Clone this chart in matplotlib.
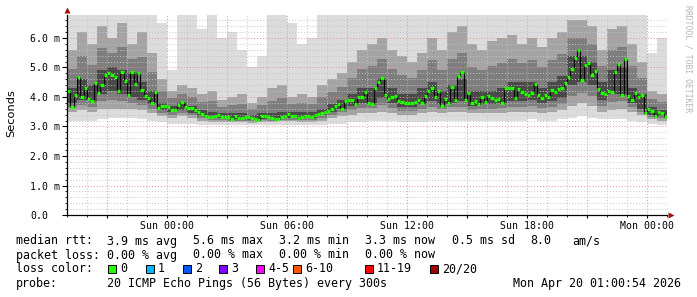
import matplotlib
matplotlib.use("Agg")
import matplotlib.pyplot as plt
import matplotlib.dates as mdates
from matplotlib.patches import Rectangle
from matplotlib.ticker import FixedLocator, MultipleLocator, FuncFormatter
import numpy as np
from datetime import datetime, timedelta

# ---------------- data ----------------
start = datetime(2026, 4, 18, 19, 0)
span_hours = 30
median_step_min = 10
smoke_step_min = 30

# median RTT in ms, one value per 10 minutes
median_ms = [
    4.20, 3.66, 4.07, 4.68, 4.00, 4.30, 3.93, 3.86, 4.47, 4.13,
    4.40, 4.75, 4.81, 4.75, 4.68, 4.20, 4.85, 4.54, 4.07, 4.85,
    4.44, 4.81, 4.24, 4.03, 3.97, 3.80, 4.17, 3.63, 3.68, 3.70,
    3.66, 3.56, 3.56, 3.73, 3.83, 3.66, 3.63, 3.63, 3.56, 3.49,
    3.42, 3.36, 3.32, 3.32, 3.34, 3.39, 3.32, 3.32, 3.32, 3.25,
    3.36, 3.29, 3.29, 3.32, 3.32, 3.29, 3.25, 3.22, 3.36, 3.34,
    3.32, 3.29, 3.27, 3.25, 3.32, 3.36, 3.42, 3.36, 3.36, 3.29,
    3.32, 3.34, 3.36, 3.32, 3.39, 3.42, 3.46, 3.49, 3.53, 3.59,
    3.70, 3.76, 3.59, 3.86, 3.90, 3.90, 3.76, 4.00, 4.00, 4.17,
    3.80, 3.76, 4.30, 4.50, 4.64, 4.07, 3.93, 4.00, 4.03, 3.86,
    3.83, 3.80, 3.80, 3.80, 3.83, 3.90, 3.80, 4.03, 4.20, 4.30,
    4.00, 4.20, 3.70, 3.93, 3.80, 4.34, 3.90, 4.71, 4.85, 3.90,
    4.13, 3.80, 3.86, 3.76, 4.00, 3.83, 4.03, 3.95, 3.90, 3.93,
    3.80, 4.30, 4.30, 4.30, 3.97, 4.27, 4.17, 4.10, 4.07, 4.13,
    4.44, 4.07, 3.97, 4.07, 4.00, 4.24, 4.17, 4.27, 4.30, 4.47,
    4.68, 4.95, 5.32, 5.60, 4.58, 5.08, 5.15, 4.75, 4.88, 4.27,
    4.13, 4.10, 4.20, 4.17, 4.85, 5.12, 4.07, 5.29, 4.03, 3.90,
    4.13, 4.00, 4.07, 3.46, 3.59, 3.53, 3.36, 3.49, 3.46, 3.32,
]

# smoke (ping spread) in ms, one value per 30 minutes
smoke_lo = [
    3.20, 3.20, 3.20, 3.25, 3.30, 3.30, 3.30, 3.25, 3.20, 3.15,
    3.10, 3.10, 3.10, 3.05, 3.05, 3.05, 3.05, 3.05, 3.05, 3.05,
    3.05, 3.05, 3.05, 3.05, 3.05, 3.05, 3.10, 3.10, 3.15, 3.15,
    3.20, 3.20, 3.20, 3.15, 3.15, 3.15, 3.20, 3.20, 3.20, 3.20,
    3.20, 3.20, 3.20, 3.20, 3.20, 3.20, 3.25, 3.20, 3.20, 3.25,
    3.30, 3.35, 3.30, 3.25, 3.25, 3.25, 3.20, 3.15, 3.10, 3.05,
]
smoke_p20 = [
    3.50, 3.55, 3.50, 3.60, 3.60, 3.60, 3.60, 3.55, 3.45, 3.35,
    3.30, 3.35, 3.30, 3.20, 3.15, 3.15, 3.15, 3.15, 3.12, 3.15,
    3.15, 3.17, 3.17, 3.15, 3.15, 3.20, 3.30, 3.35, 3.40, 3.45,
    3.45, 3.50, 3.45, 3.40, 3.40, 3.45, 3.50, 3.45, 3.50, 3.50,
    3.45, 3.45, 3.45, 3.45, 3.50, 3.50, 3.50, 3.45, 3.50, 3.55,
    3.70, 3.80, 3.70, 3.50, 3.55, 3.60, 3.50, 3.40, 3.25, 3.20,
]
smoke_p40 = [
    3.80, 3.90, 3.85, 4.10, 4.20, 4.10, 4.00, 3.90, 3.75, 3.55,
    3.50, 3.55, 3.45, 3.35, 3.28, 3.28, 3.25, 3.25, 3.22, 3.27,
    3.24, 3.30, 3.30, 3.28, 3.30, 3.40, 3.50, 3.60, 3.70, 3.80,
    3.80, 3.95, 3.80, 3.65, 3.65, 3.75, 3.85, 3.75, 3.80, 3.85,
    3.70, 3.75, 3.75, 3.80, 3.85, 3.85, 3.90, 3.80, 3.85, 3.95,
    4.40, 4.50, 4.40, 3.90, 4.10, 4.10, 3.80, 3.60, 3.40, 3.35,
]
smoke_p60 = [
    4.30, 4.60, 4.40, 4.90, 5.00, 4.90, 4.80, 4.50, 4.20, 3.80,
    3.70, 3.80, 3.70, 3.55, 3.50, 3.45, 3.45, 3.45, 3.40, 3.45,
    3.45, 3.50, 3.50, 3.50, 3.50, 3.60, 3.75, 3.90, 4.10, 4.30,
    4.30, 4.60, 4.30, 4.10, 4.10, 4.30, 4.50, 4.20, 4.40, 4.60,
    4.20, 4.20, 4.20, 4.30, 4.50, 4.50, 4.50, 4.30, 4.50, 4.70,
    5.40, 5.40, 5.20, 4.50, 4.90, 5.00, 4.30, 4.10, 3.65, 3.55,
]
smoke_p80 = [
    5.60, 6.20, 5.80, 6.40, 6.00, 6.50, 5.80, 6.20, 5.50, 4.60,
    4.20, 4.40, 4.30, 4.10, 4.20, 3.90, 4.00, 4.10, 3.80, 4.00,
    4.30, 4.40, 4.00, 4.10, 4.00, 4.40, 4.60, 4.80, 5.20, 5.60,
    5.80, 6.00, 5.60, 5.40, 5.20, 5.50, 6.00, 5.60, 6.20, 6.40,
    5.80, 5.60, 5.90, 6.00, 6.10, 5.80, 6.00, 5.70, 6.00, 6.20,
    6.60, 6.60, 6.40, 5.60, 6.30, 6.40, 5.80, 5.20, 4.20, 4.10,
]
smoke_hi = [
    7.0, 7.0, 7.0, 7.0, 7.0, 7.0, 7.0, 7.0, 7.0, 6.5,
    4.9, 7.0, 7.0, 6.3, 7.0, 6.0, 6.2, 5.6, 5.0, 5.4,
    7.0, 7.0, 6.5, 5.8, 6.0, 7.0, 7.0, 7.0, 7.0, 7.0,
    7.0, 7.0, 7.0, 7.0, 7.0, 7.0, 7.0, 7.0, 7.0, 7.0,
    7.0, 7.0, 7.0, 7.0, 7.0, 7.0, 7.0, 7.0, 7.0, 7.0,
    7.0, 7.0, 7.0, 7.0, 7.0, 7.0, 7.0, 7.0, 5.5, 6.0,
]

y_ticks = [0, 1, 2, 3, 4, 5, 6]
y_tick_labels = ["0.0", "1.0 m", "2.0 m", "3.0 m", "4.0 m", "5.0 m", "6.0 m"]

rtt_row = [("median rtt:", 16), ("3.9 ms avg", 107), ("5.6 ms max", 193),
           ("3.2 ms min", 279), ("3.3 ms now", 365), ("0.5 ms sd", 452),
           ("8.0", 530), ("am/s", 572)]
loss_row = [("packet loss:", 16), ("0.00 % avg", 107), ("0.00 % max", 193),
            ("0.00 % min", 279), ("0.00 % now", 365)]
loss_labels = ["0", "1", "2", "3", "4-5", "6-10", "11-19", "20/20"]
loss_colors = ["#26ff00", "#00b8ff", "#0059ff", "#7e00ff", "#ff00ff",
               "#ff5500", "#ff0000", "#a10000"]
loss_box_x = [108, 146, 183, 219, 256, 293, 365, 430]
probe_text = "20 ICMP Echo Pings (56 Bytes) every 300s"
stamp_text = "Mon Apr 20 01:00:54 2026"

# ---------------- figure ----------------
W, H = 697, 297
fig = plt.figure(figsize=(W / 100, H / 100), dpi=100)
fig.patch.set_facecolor("white")
ax = fig.add_axes([67 / W, (H - 215) / H, 600 / W, 200 / H])
ax.set_facecolor("white")

ymax = 200 / 29.5
end = start + timedelta(hours=span_hours)

# smoke
s_edges = mdates.date2num([start + timedelta(minutes=smoke_step_min * i)
                           for i in range(len(smoke_lo) + 1)])
def ext(a):
    a = np.asarray(a, float)
    return np.append(a, a[-1])

lo, p20, p40, p60, p80, hi = map(ext, (smoke_lo, smoke_p20, smoke_p40,
                                       smoke_p60, smoke_p80, smoke_hi))
bands = [
    (lo, hi, "#dcdcdc"),
    (p20, p80, "#a4a4a4"),
    ((p20 + p40) / 2, (p60 + p80) / 2, "#7e7e7e"),
    (p40, p60, "#4a4a4a"),
]
for b0, b1, c in bands:
    ax.fill_between(s_edges, b0, b1, step="post", color=c, lw=0, zorder=1)

# median
m_edges = mdates.date2num([start + timedelta(minutes=median_step_min * i)
                           for i in range(len(median_ms) + 1)])
med = np.asarray(median_ms)
ax.step(m_edges, np.append(med, med[-1]), where="post", color="black",
        lw=0.8, zorder=3)
ax.hlines(med, m_edges[:-1], m_edges[1:], color=loss_colors[0], lw=2.3,
          zorder=4)

# axes limits / ticks
ax.set_xlim(mdates.date2num(start), mdates.date2num(end))
ax.set_ylim(0, ymax)
ax.set_axisbelow(False)

ax.xaxis.set_major_locator(mdates.HourLocator(byhour=range(0, 24, 3)))
ax.xaxis.set_minor_locator(mdates.HourLocator())
def xfmt(x, pos):
    d = mdates.num2date(x)
    return d.strftime("%a %H:%M") if d.hour % 6 == 0 else ""
ax.xaxis.set_major_formatter(FuncFormatter(xfmt))

ax.yaxis.set_major_locator(FixedLocator(y_ticks))
ax.set_yticklabels(y_tick_labels)
ax.yaxis.set_minor_locator(MultipleLocator(0.2))

mono = "DejaVu Sans Mono"
for lab in ax.get_xticklabels():
    lab.set_fontfamily(mono)
    lab.set_fontsize(7.1)
for lab in ax.get_yticklabels():
    lab.set_fontfamily(mono)
    lab.set_fontsize(7.1)
    lab.set_horizontalalignment("left")

ax.tick_params(axis="x", which="major", direction="out", length=2.5,
               width=0.8, pad=2.0, colors="black")
ax.tick_params(axis="x", which="minor", direction="out", length=1.5, width=0.6)
ax.tick_params(axis="y", which="major", direction="out", length=3.5,
               width=0.8, pad=23.0)
ax.tick_params(axis="y", which="minor", direction="out", length=1.5, width=0.6)

ax.grid(which="minor", color="#c4c4c4", lw=0.7, ls=(0, (1, 2)), zorder=2.5)
ax.grid(which="major", color="#e89090", lw=0.7, ls=(0, (1, 2)), zorder=2.6)

for s in ("top", "right"):
    ax.spines[s].set_visible(False)
for s in ("left", "bottom"):
    ax.spines[s].set_color("black")
    ax.spines[s].set_linewidth(0.9)
    ax.spines[s].set_zorder(5)

# arrows
ax.plot([0], [1.025], marker="^", ms=4.2, color="#a01010",
        transform=ax.transAxes, clip_on=False, zorder=6, mec="none")
ax.plot([1.006], [0], marker=">", ms=4.2, color="#a01010",
        transform=ax.transAxes, clip_on=False, zorder=6, mec="none")

# axis title & watermark
fig.text(11 / W, 1 - 113 / H, "Seconds", rotation=90, ha="center",
         va="center", fontsize=8.2, family="DejaVu Sans")
fig.text(688 / W, 1 - 5 / H, "RRDTOOL / TOBI OETIKER", rotation=-90,
         ha="center", va="top", fontsize=5.8, family=mono, color="#b4b4b4")

# legend rows
fs = 8.4
def row(items, y):
    for txt, x in items:
        fig.text(x / W, 1 - y / H, txt, ha="left", va="center",
                 fontsize=fs, family=mono)

row(rtt_row, 241)
row(loss_row, 255)
row([("loss color:", 16)], 269)
for lab, col, bx in zip(loss_labels, loss_colors, loss_box_x):
    fig.patches.append(Rectangle((bx / W, 1 - 273 / H), 8 / W, 8 / H,
                                 transform=fig.transFigure, facecolor=col,
                                 edgecolor="black", lw=0.7))
    fig.text((bx + 12) / W, 1 - 269 / H, lab, ha="left", va="center",
             fontsize=fs, family=mono)
row([("probe:", 16), (probe_text, 107), (stamp_text, 513)], 283)

fig.savefig("out.png", dpi=100, facecolor="white")
